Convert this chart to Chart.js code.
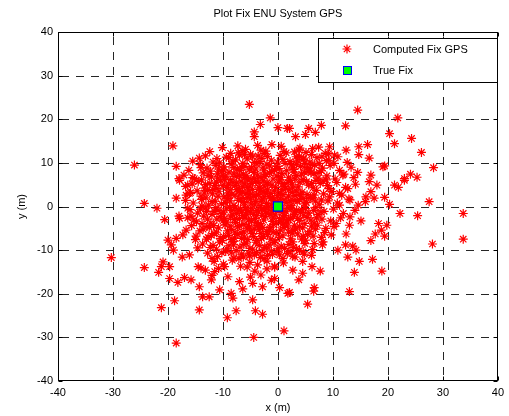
<!DOCTYPE html>
<html>
<head>
<meta charset="utf-8">
<script src="https://cdn.jsdelivr.net/npm/chart.js@4/dist/chart.umd.min.js"></script>
<style>
  html, body { margin: 0; padding: 0; background: #ffffff; }
  canvas { display: block; }
</style>
</head>
<body>
<canvas id="fixChart" width="509" height="416"></canvas>
<script>
// ---- chart text ----
const chartTitle = 'Plot Fix ENU System GPS';
const xAxisLabel = 'x (m)';
const yAxisLabel = 'y (m)';
const legendLabels = ['Computed Fix GPS', 'True Fix'];
const axisTicks = [-40, -30, -20, -10, 0, 10, 20, 30, 40];

// ---- data (east, north) in metres ----
const trueFix = [[0, 0]];

// scattered fixes away from the core
const outerFixes = [
  [-26.1,9.5],[-19.1,13.9],[-18.5,9.2],[-18.0,6.4],[-15.5,6.6],
  [-5.2,23.4],[-1.4,20.3],[-3.2,18.8],[0.0,18.1],[1.7,17.9],[-4.3,17.1],[-4.3,16.0],[-3.7,14.0],[-7.3,13.9],[-3.1,12.9],[-7.0,11.8],[-4.6,11.4],[-14.3,11.1],[-6.4,9.9],[-2.5,12.2],[-14.0,8.9],
  [14.5,22.1],[7.9,18.6],[12.3,18.5],[5.6,17.9],[6.8,17.0],[3.2,16.0],[5.0,16.5],[2.1,17.9],[9.4,13.7],[14.7,13.7],[16.3,14.2],[12.4,12.9],[14.7,11.9],[16.6,11.1],[6.3,13.3],[3.3,11.4],[10.9,11.4],[19.1,9.1],[14.5,7.8],[16.9,7.2],[11.8,7.2],[4.8,7.9],[6.6,7.6],
  [21.8,20.3],[20.3,16.7],[21.2,14.4],[24.3,15.6],[26.1,12.4],[28.3,8.9],[24.1,7.4],[23.0,6.4],[25.3,6.7],[19.4,9.3],
  [21.2,4.9],[21.9,4.4],[23.0,6.0],[19.4,2.1],[20.3,0.5],[27.5,1.1],[22.2,-1.6],[25.4,-2.1],[33.7,-1.6],[19.8,-4.3],[33.7,-7.5],[28.1,-8.6],[19.4,-6.8],
  [12.7,4.1],[11.2,3.0],[16.6,5.7],[18.0,4.9],[16.9,3.4],[15.9,1.1],[17.5,1.9],[13.1,-2.4],[15.1,-3.3],[13.0,-4.3],[10.6,-3.9],[18.3,-3.9],[18.8,-5.4],[17.7,-6.3],[12.4,-6.3],[16.9,-7.8],[8.5,-6.0],[8.1,-8.8],[12.3,-8.8],[13.6,-9.1],[14.2,-10.0],[10.9,-10.0],[12.7,-11.6],[14.8,-12.6],[17.2,-12.1],[4.5,-12.6],[4.8,-10.9],[2.7,-11.4],[6.6,-8.5],[9.4,2.2],[11.2,0.3],[13.1,1.5],[16.0,2.2],
  [2.7,-14.6],[4.5,-15.3],[6.2,-13.8],[7.7,-14.8],[3.8,-16.8],[6.6,-18.6],[6.5,-19.4],[2.1,-19.7],[5.4,-22.4],[13.9,-15.1],[13.0,-19.5],[18.9,-14.8],
  [-14.3,-18.4],[-13.7,-20.7],[-12.5,-20.7],[-14.3,-23.7],[-10.6,-19.1],[-9.1,-16.1],[-8.5,-19.9],[-8.2,-21.0],[-7.0,-17.2],[-6.4,-18.9],[-7.6,-23.9],[-9.2,-25.5],[-4.6,-21.4],[-4.1,-23.9],[-2.8,-24.7],[-4.4,-30.0],[1.1,-28.5],[-4.6,-17.6],[-2.8,-18.4],[0.3,-18.6],[-0.6,-16.5],[-12.1,-16.8],[-11.5,-14.9],[-14.0,-14.1],[-9.7,-13.8],[1.8,-19.9],
  [-14.5,-13.8],[-13.2,-14.6],[-12.0,-15.8],[-10.8,-14.2],[-5.6,-13.9],[-4.2,-14.8],[-3.1,-15.7],[-2.0,-14.3],[-1.2,-16.9],[-5.0,-16.2],[-0.6,-13.7],
  [-24.3,-14.0],[-21.7,-15.1],[-19.7,-16.5],[-18.2,-17.4],[-17.0,-16.3],[-15.8,-16.8],[-18.8,-21.6],[-21.2,-23.2],[-18.5,-31.3],[-21.2,-13.8],[-19.7,-13.8],
  [-24.3,0.7],[-22.0,-0.4],[-20.6,-3.0],[-18.5,1.9],[-16.7,2.6],[-16.4,-0.4],[-18.0,-2.2],[-16.7,-5.4],[-17.3,-6.5],[-18.5,-7.3],[-19.4,-8.8],[-19.0,-10.0],[-17.4,-11.6],[-16.1,-11.1],[-20.9,-12.7],[-30.3,-11.7],[-17.9,6.0],[-16.4,4.9],[-16.1,3.0],[-17.9,-2.7],[-20.0,-7.7],
  [3.0,12.5],[4.6,10.8],[6.1,11.9],[7.5,9.9],[8.6,12.2],[9.3,10.6],[5.3,8.9],[2.5,9.6],[7.9,8.2],[4.0,13.4]
];

// dense fixes in the core of the cloud
const coreFixes = [
  [-12.4,12.6],[-10.1,13.5],[-8.6,12.2],[-5.9,13.1],[-2.2,12.7],[0.6,13.8],[1.5,12.3],[3.8,13.0],[5.1,12.4],[7.4,13.6],[9.2,12.1],[-1.1,14.2],
  [-15.5,10.4],[-13.2,11.6],[-11.8,10.2],[-9.4,11.3],[-7.7,10.7],[-6.1,11.9],[-4.3,10.1],[-2.9,11.0],[-1.2,10.6],[0.4,11.7],[2.2,10.3],[3.9,11.5],[5.8,10.2],[7.1,11.2],[8.8,10.5],[10.3,11.8],[12.6,10.1],
  [-16.2,8.3],[-14.1,9.6],[-12.9,8.8],[-11.3,9.4],[-10.2,8.1],[-8.5,9.7],[-7.4,8.6],[-6.6,9.1],[-5.2,8.4],[-3.8,9.8],[-2.6,8.2],[-1.5,9.3],[0.2,8.7],[1.3,9.9],[2.9,8.5],[4.1,9.2],[5.5,8.0],[6.7,9.5],[8.1,8.8],[9.5,9.4],[11.2,8.3],[13.3,9.0],
  [-17.1,7.2],[-15.2,6.4],[-13.6,7.7],[-12.1,6.8],[-11.0,7.5],[-9.7,6.2],[-8.9,7.9],[-7.6,6.9],[-6.3,7.4],[-5.5,6.1],[-4.4,7.8],[-3.1,6.6],[-2.2,7.3],[-0.9,6.3],[0.7,7.6],[1.9,6.7],[3.3,7.1],[4.6,6.2],[6.0,7.7],[7.3,6.5],[8.9,7.0],[10.4,6.3],[12.0,7.4],[13.8,6.6],
  [-16.8,4.6],[-14.5,5.7],[-13.3,4.2],[-12.4,5.3],[-11.5,4.8],[-10.4,5.9],[-9.3,4.4],[-8.2,5.5],[-7.1,4.1],[-6.0,5.2],[-5.1,4.7],[-4.0,5.8],[-3.3,4.3],[-2.0,5.4],[-1.1,4.9],[0.1,5.6],[1.4,4.2],[2.6,5.1],[3.7,4.5],[5.2,5.7],[6.4,4.3],[7.7,5.3],[9.0,4.8],[10.7,5.5],[12.3,4.4],[14.1,5.1],
  [-15.9,3.2],[-14.0,2.4],[-12.8,3.7],[-11.9,2.9],[-10.7,3.5],[-9.8,2.2],[-8.7,3.8],[-7.8,2.6],[-6.5,3.3],[-5.6,2.1],[-4.6,3.9],[-3.6,2.8],[-2.7,3.4],[-1.6,2.3],[-0.6,3.6],[0.9,2.7],[2.0,3.8],[3.1,2.5],[4.4,3.3],[5.9,2.1],[7.0,3.7],[8.3,2.9],[9.8,3.4],[11.6,2.6],
  [-15.4,0.8],[-13.9,1.6],[-12.6,0.3],[-11.4,1.2],[-10.3,0.6],[-9.2,1.8],[-8.0,0.2],[-7.2,1.4],[-6.1,0.9],[-5.0,1.7],[-4.2,0.4],[-3.0,1.3],[-2.1,0.7],[-1.3,1.9],[-0.4,0.5],[1.1,1.5],[2.4,0.2],[3.5,1.1],[4.8,0.6],[6.2,1.8],[7.6,0.4],[9.1,1.3],[10.8,0.8],[12.9,1.7],[14.6,0.3],
  [-16.0,-0.7],[-14.6,-1.5],[-13.1,-0.3],[-12.0,-1.8],[-10.9,-0.9],[-9.9,-1.3],[-8.8,-0.2],[-7.5,-1.6],[-6.8,-0.6],[-5.7,-1.9],[-4.7,-0.4],[-3.5,-1.2],[-2.4,-0.8],[-1.4,-1.7],[-0.2,-0.5],[0.8,-1.4],[1.8,-0.3],[3.0,-1.8],[4.3,-0.7],[5.6,-1.5],[6.9,-0.2],[8.4,-1.1],[10.1,-0.6],[11.9,-1.6],[14.0,-0.9],
  [-16.4,-2.6],[-14.8,-3.5],[-13.5,-2.2],[-12.2,-3.8],[-11.1,-2.9],[-10.0,-3.3],[-8.6,-2.4],[-7.7,-3.7],[-6.4,-2.1],[-5.3,-3.1],[-4.1,-2.7],[-3.2,-3.9],[-2.3,-2.3],[-1.0,-3.4],[0.3,-2.8],[1.6,-3.6],[2.8,-2.2],[4.0,-3.2],[5.3,-2.5],[6.6,-3.8],[8.0,-2.9],[9.6,-3.3],[11.4,-2.6],
  [-15.7,-4.4],[-14.2,-5.6],[-12.5,-4.8],[-11.2,-5.9],[-9.6,-4.2],[-8.4,-5.3],[-7.3,-4.7],[-6.2,-5.8],[-5.4,-4.3],[-4.3,-5.1],[-3.3,-4.6],[-2.0,-5.7],[-0.8,-4.1],[0.5,-5.4],[1.7,-4.5],[3.2,-5.2],[4.5,-4.9],[5.8,-5.7],[7.2,-4.3],[8.7,-5.0],[10.2,-4.6],
  [-14.9,-6.8],[-13.0,-7.5],[-11.6,-6.2],[-10.1,-7.8],[-9.0,-6.6],[-7.9,-7.2],[-6.7,-6.1],[-5.5,-7.6],[-4.4,-6.9],[-3.0,-7.3],[-1.9,-6.4],[-0.5,-7.9],[0.9,-6.7],[2.3,-7.4],[3.6,-6.3],[5.0,-7.7],[6.4,-6.8],[7.9,-7.1],[9.7,-6.5],
  [-13.7,-8.6],[-12.3,-9.4],[-10.6,-8.2],[-9.3,-9.7],[-8.1,-8.8],[-6.9,-9.3],[-5.8,-8.4],[-4.6,-9.8],[-3.4,-8.9],[-2.1,-9.5],[-0.7,-8.3],[0.6,-9.1],[2.0,-8.7],[3.4,-9.6],[4.9,-8.5],[6.3,-9.9],[8.2,-8.1],
  [-12.8,-10.7],[-11.0,-11.5],[-9.5,-10.3],[-8.0,-11.8],[-6.6,-10.9],[-5.2,-11.3],[-3.9,-10.5],[-2.5,-11.9],[-1.2,-10.2],[0.3,-11.1],[1.7,-10.8],[3.1,-11.6],[4.6,-10.4],[6.1,-11.2],
  [-11.6,-12.6],[-9.9,-13.2],[-8.3,-12.3],[-6.8,-13.7],[-5.1,-12.8],[-3.7,-13.4],[-2.0,-12.5],[-0.6,-13.9],[1.0,-12.9],
  [-7.8,4.8],[-6.9,2.9],[-5.3,3.6],[-4.1,1.1],[-3.4,4.2],[-2.5,2.2],[-1.8,5.1],[-0.7,1.4],[0.4,3.1],[1.5,0.9],[2.7,4.3],[3.9,1.6],
  [-8.4,-0.9],[-7.0,-2.8],[-5.9,-0.3],[-4.8,-3.3],[-3.8,-0.9],[-2.9,-2.0],[-1.7,-0.1],[-0.9,-2.6],[0.2,-1.0],[1.3,-2.1],[2.5,-0.4],[3.6,-2.7],
  [-9.1,3.1],[-10.2,-1.6],[-6.2,-4.1],[-4.9,6.3],[-1.4,-4.8],[0.9,5.3],[-11.8,3.9],[-9.5,6.8],[-7.4,-6.4],[-3.1,-6.2],[1.9,-5.9],[4.9,-3.9],
  [5.3,2.7],[-12.9,-4.6],[-8.1,-8.0],[-2.4,-9.3],[-6.0,9.2],[-10.8,8.6],[2.9,7.9],[6.5,-0.9],[-13.8,0.1],[-5.1,-9.6],[-0.2,9.2],[-3.6,11.6],
  [-8.9,11.2],[-14.6,-9.5],[-15.8,-2.2],[7.8,-1.2],[9.3,4.1],[-1.0,-11.0],[-6.5,12.8],[3.4,9.7]
];

// the most crowded part of the cloud, around the true position
const innerFixes = [
  [-11.1,11.0],[-9.8,9.1],[-8.2,10.4],[-6.9,8.3],[-5.6,10.9],[-4.8,9.0],[-3.3,10.3],[-2.0,9.7],[-0.6,8.4],[0.9,10.8],[2.6,9.0],[4.7,11.1],[6.2,9.6],[-7.2,12.3],[-1.9,11.5],[1.1,12.6],
  [-13.9,6.1],[-12.7,7.1],[-11.2,5.6],[-10.0,7.2],[-9.0,5.1],[-8.0,7.5],[-6.7,5.8],[-5.8,7.0],[-4.7,5.3],[-3.7,7.2],[-2.7,5.9],[-1.5,7.7],[-0.4,4.4],[0.6,6.7],[1.8,5.5],[3.1,6.3],[4.3,7.4],[5.6,4.9],[6.9,6.0],[8.2,5.8],[-15.6,5.2],
  [-14.7,3.6],[-13.1,2.0],[-12.0,1.1],[-10.9,2.4],[-9.6,0.9],[-8.4,2.8],[-7.5,3.9],[-6.7,1.8],[-5.8,3.0],[-4.9,0.6],[-3.9,2.6],[-3.1,0.2],[-2.2,3.1],[-1.0,2.0],[0.1,0.8],[0.7,3.9],[1.9,2.4],[2.9,1.4],[4.1,2.8],[5.2,0.9],[6.6,2.6],[7.9,1.5],[-16.8,1.4],
  [-14.1,-0.6],[-12.8,-2.9],[-11.6,-1.1],[-10.5,-2.3],[-9.4,-0.4],[-8.2,-1.9],[-7.1,-0.8],[-6.0,-2.6],[-5.0,-1.3],[-4.0,-3.7],[-3.0,-0.6],[-2.0,-1.5],[-0.8,-0.9],[0.5,-3.3],[1.5,-1.2],[2.3,-2.8],[3.4,-0.9],[4.7,-2.0],[6.0,-3.1],[7.3,-1.8],[-15.3,-3.1],
  [-13.6,-5.2],[-12.1,-6.6],[-10.8,-4.9],[-9.9,-6.9],[-8.7,-4.5],[-7.8,-5.9],[-6.6,-7.3],[-5.6,-5.1],[-4.7,-6.2],[-3.7,-4.4],[-2.6,-6.9],[-1.5,-5.2],[-0.3,-6.0],[1.1,-4.8],[2.6,-6.1],[3.9,-4.6],[5.4,-6.4],[6.8,-5.2],[-15.0,-7.6],
  [-11.8,-8.9],[-10.2,-10.6],[-8.9,-9.0],[-7.6,-10.1],[-6.2,-8.7],[-5.3,-10.7],[-4.0,-8.2],[-2.9,-10.2],[-1.6,-8.8],[-0.2,-10.4],[1.2,-9.6],[2.7,-8.1],[3.9,-10.1],[-12.0,-11.9],[-7.1,-11.9],[-3.2,-11.7],[0.9,-11.9],
  [-7.5,5.4],[-6.3,1.1],[-5.5,4.4],[-4.4,2.4],[-3.6,5.5],[-2.9,1.7],[-1.9,3.8],[-1.2,0.4],[-0.1,2.5],[1.2,4.6],[2.2,1.3],[3.3,3.6],
  [-7.9,-3.0],[-6.6,-1.3],[-5.2,-4.7],[-4.4,-1.8],[-3.4,-5.3],[-2.6,-3.1],[-1.1,-1.2],[-0.3,-3.9],[0.7,-0.5],[1.9,-3.0],[3.0,-4.3],[4.1,-1.4],
  [-9.3,-3.6],[-8.7,1.3],[-10.0,4.8],[-6.0,6.6],[-2.4,6.9],[0.3,6.1],
  [-10.6,10.0],[-8.0,8.9],[-5.0,12.0],[-2.7,9.0],[-0.1,10.2],[3.5,10.6],[5.9,8.6],[8.0,11.4],[10.2,9.9],
  [-12.3,8.1],[-9.9,8.4],[-7.0,7.0],[-4.0,8.6],[-1.2,8.0],[1.6,8.2],[4.9,9.9],[7.5,7.8],
  [-13.2,5.0],[-10.9,6.5],[-8.6,6.1],[-6.4,4.5],[-4.3,6.4],[-2.5,4.7],[-0.2,7.0],[2.3,6.0],[4.0,5.6],[6.1,5.3],[8.8,6.1],
  [-13.4,3.1],[-11.1,4.1],[-9.0,2.5],[-7.0,3.6],[-5.1,2.7],[-3.2,3.6],[-1.4,3.0],[0.4,1.7],[2.6,3.2],[4.7,1.8],[6.8,1.2],
  [-13.0,-1.1],[-11.3,-0.3],[-9.7,-2.7],[-7.8,-0.3],[-5.5,-0.9],[-3.9,-2.1],[-2.2,-0.3],[-0.5,-1.9],[1.0,-2.6],[3.0,-1.2],[5.0,-0.5],[7.0,-2.6],
  [-13.8,-3.9],[-11.7,-4.4],[-9.2,-5.6],[-7.0,-4.4],[-4.9,-5.6],[-2.8,-4.8],[-0.9,-5.9],[0.9,-4.0],[2.7,-5.4],[4.6,-6.8],[6.1,-4.5],
  [-12.7,-7.1],[-10.5,-7.3],[-8.5,-7.6],[-6.1,-7.0],[-3.9,-7.8],[-1.3,-7.5],[0.3,-7.1],[2.8,-9.4],[4.3,-7.5],
  [-11.2,-9.8],[-8.5,-10.6],[-6.3,-11.6],[-4.3,-11.1],[-1.9,-11.2],[0.0,-9.7],[2.2,-10.3]
];

const computedFixGps = outerFixes.concat(coreFixes, innerFixes);

// ---- styling ----
const FONT = 'Arial, "Liberation Sans", Helvetica, sans-serif';
const GPS_RED = '#ff0000';
const FIX_GREEN = '#00ff00';
const FIX_BLUE = '#0000ff';
const STAR_RADIUS = 4.5;

const toPoints = arr => arr.map(p => ({ x: p[0], y: p[1] }));

function drawStar(ctx, x, y, r) {
  const d = r * Math.SQRT1_2;
  ctx.beginPath();
  ctx.moveTo(x - r, y); ctx.lineTo(x + r, y);
  ctx.moveTo(x, y - r); ctx.lineTo(x, y + r);
  ctx.moveTo(x - d, y - d); ctx.lineTo(x + d, y + d);
  ctx.moveTo(x - d, y + d); ctx.lineTo(x + d, y - d);
  ctx.stroke();
}

// axes box, dashed grid, inner tick marks, title and legend box
const axesFrame = {
  id: 'axesFrame',
  beforeDatasetsDraw(chart) {
    const { ctx, chartArea: a, scales: { x, y } } = chart;
    ctx.save();
    ctx.lineWidth = 1;
    ctx.strokeStyle = '#262626';
    ctx.setLineDash([8, 7]);
    axisTicks.forEach(v => {
      if (v === axisTicks[0] || v === axisTicks[axisTicks.length - 1]) return;
      const px = Math.round(x.getPixelForValue(v)) + 0.5;
      ctx.lineDashOffset = 10;
      ctx.beginPath(); ctx.moveTo(px, a.top); ctx.lineTo(px, a.bottom); ctx.stroke();
      const py = Math.round(y.getPixelForValue(v)) + 0.5;
      ctx.lineDashOffset = 12;
      ctx.beginPath(); ctx.moveTo(a.left, py); ctx.lineTo(a.right, py); ctx.stroke();
    });
    ctx.restore();
  },
  afterDatasetsDraw(chart) {
    const { ctx, chartArea: a, scales: { x, y } } = chart;
    const L = Math.round(a.left) + 0.5, R = Math.round(a.right) - 0.5;
    const T = Math.round(a.top) + 0.5, B = Math.round(a.bottom) - 0.5;
    ctx.save();
    ctx.setLineDash([]);
    ctx.lineWidth = 1;
    ctx.strokeStyle = '#000000';
    ctx.strokeRect(L, T, R - L, B - T);
    const tl = 4;
    ctx.beginPath();
    axisTicks.forEach(v => {
      const px = Math.round(x.getPixelForValue(v)) + 0.5;
      ctx.moveTo(px, B); ctx.lineTo(px, B - tl);
      ctx.moveTo(px, T); ctx.lineTo(px, T + tl);
      const py = Math.round(y.getPixelForValue(v)) + 0.5;
      ctx.moveTo(L, py); ctx.lineTo(L + tl, py);
      ctx.moveTo(R, py); ctx.lineTo(R - tl, py);
    });
    ctx.stroke();

    // title
    ctx.fillStyle = '#000000';
    ctx.font = '11px ' + FONT;
    ctx.textAlign = 'center';
    ctx.textBaseline = 'middle';
    ctx.fillText(chartTitle, (a.left + a.right) / 2, 14);

    // legend box
    const bx = 318.5, by = 38.5, bw = 179, bh = 44;
    ctx.fillStyle = '#ffffff';
    ctx.fillRect(bx, by, bw, bh);
    ctx.strokeStyle = '#000000';
    ctx.strokeRect(bx, by, bw, bh);
    const mx = 347, row1 = 49, row2 = 70;
    ctx.strokeStyle = GPS_RED;
    ctx.lineWidth = 1.2;
    drawStar(ctx, mx, row1, STAR_RADIUS);
    ctx.lineWidth = 1;
    ctx.fillStyle = FIX_GREEN;
    ctx.fillRect(mx - 4, row2 - 4, 9, 9);
    ctx.strokeStyle = FIX_BLUE;
    ctx.strokeRect(mx - 3.5, row2 - 3.5, 8, 8);
    ctx.fillStyle = '#000000';
    ctx.textAlign = 'left';
    ctx.fillText(legendLabels[0], 373, row1 + 0.5);
    ctx.fillText(legendLabels[1], 373, row2 + 0.5);
    ctx.restore();
  }
};

const tickFont = { family: FONT, size: 11 };

new Chart(document.getElementById('fixChart').getContext('2d'), {
  type: 'scatter',
  data: {
    datasets: [
      {
        label: legendLabels[1],
        data: toPoints(trueFix),
        pointStyle: 'rect',
        pointRadius: 6.4,
        backgroundColor: FIX_GREEN,
        borderColor: FIX_BLUE,
        borderWidth: 1.2,
        order: 0
      },
      {
        label: legendLabels[0],
        data: toPoints(computedFixGps),
        pointStyle: 'star',
        pointRadius: STAR_RADIUS,
        backgroundColor: GPS_RED,
        borderColor: GPS_RED,
        borderWidth: 1.2,
        order: 1
      }
    ]
  },
  options: {
    responsive: false,
    animation: false,
    devicePixelRatio: 1,
    events: [],
    layout: { padding: { top: 32, right: 10, bottom: 0, left: 0 } },
    plugins: {
      legend: { display: false },
      title: { display: false },
      tooltip: { enabled: false }
    },
    scales: {
      x: {
        type: 'linear',
        min: -40, max: 40,
        afterBuildTicks: s => { s.ticks = axisTicks.map(v => ({ value: v })); },
        afterFit: s => { s.height = 35; },
        grid: { display: false, drawTicks: false },
        border: { display: false },
        ticks: { color: '#000000', font: tickFont, padding: 5, maxRotation: 0, autoSkip: false },
        title: { display: true, text: xAxisLabel, color: '#000000', font: tickFont, padding: { top: 0, bottom: 1.5 } }
      },
      y: {
        type: 'linear',
        min: -40, max: 40,
        afterBuildTicks: s => { s.ticks = axisTicks.map(v => ({ value: v })); },
        afterFit: s => { s.width = 58; },
        grid: { display: false, drawTicks: false },
        border: { display: false },
        ticks: { color: '#000000', font: tickFont, padding: 5, autoSkip: false },
        title: { display: true, text: yAxisLabel, color: '#000000', font: tickFont, padding: { top: 15.5, bottom: 0 } }
      }
    }
  },
  plugins: [axesFrame]
});
</script>
</body>
</html>
